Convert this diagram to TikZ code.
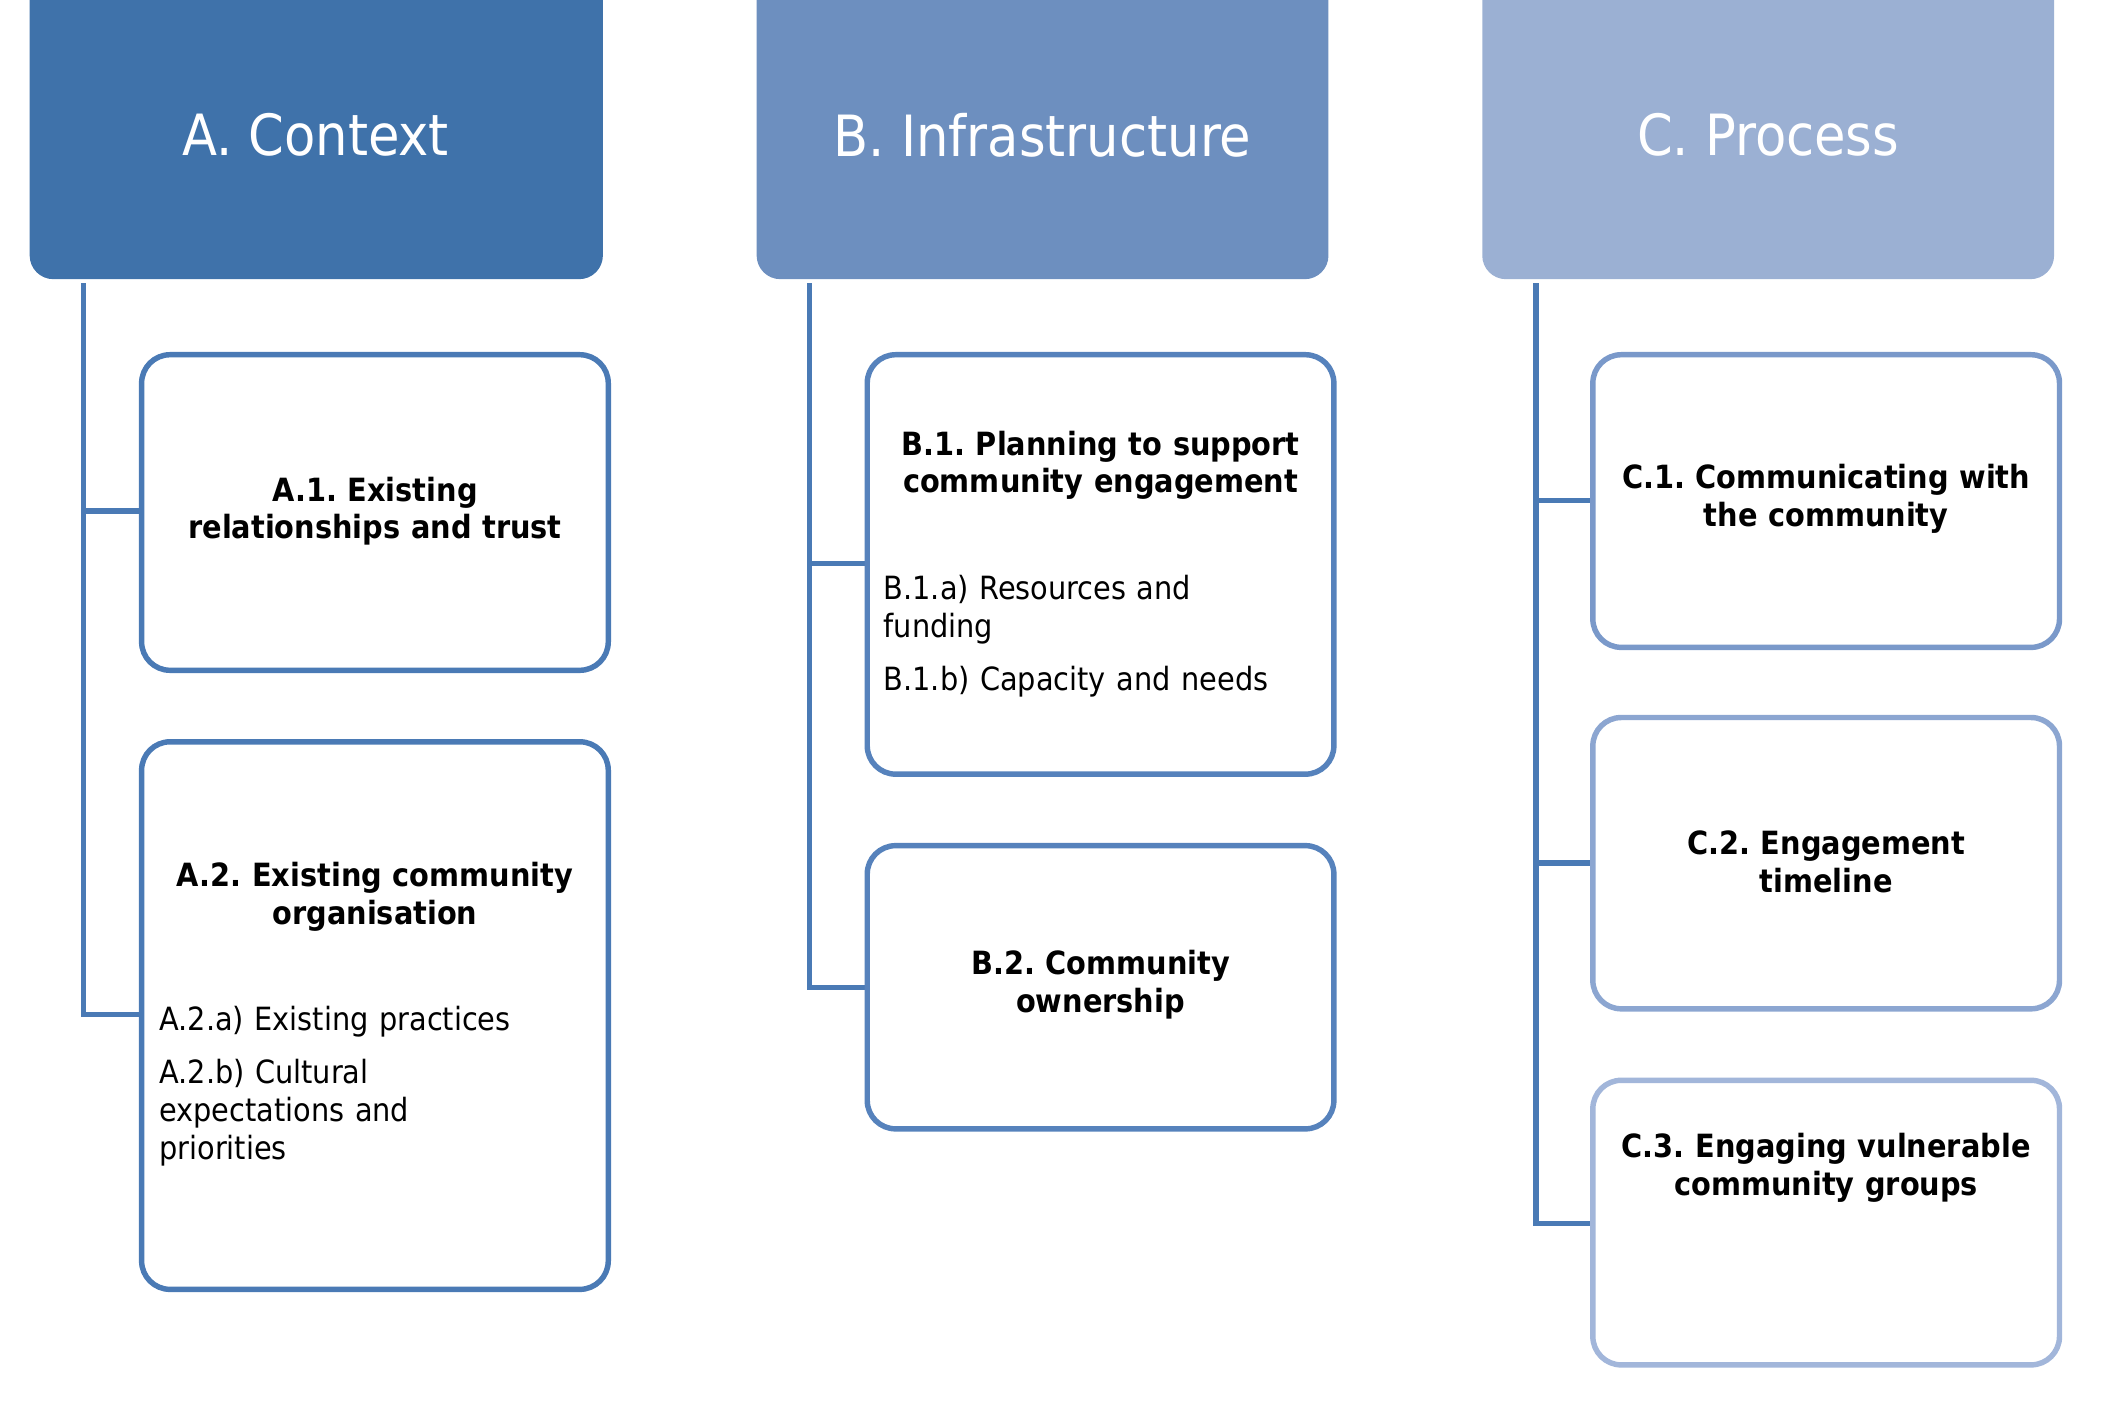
\documentclass[tikz,border=0pt]{standalone}
\usepackage{fontspec}
\setmainfont{DejaVu Sans Condensed}
\frenchspacing
\definecolor{headA}{HTML}{3F72AA}
\definecolor{headB}{HTML}{6D8FBF}
\definecolor{headC}{HTML}{9BB0D3}
\definecolor{lineA}{HTML}{4A7AB5}
\definecolor{lineB}{HTML}{5682BC}
\definecolor{lineC1}{HTML}{7A99CA}
\definecolor{lineC2}{HTML}{8CA6D1}
\definecolor{lineC3}{HTML}{A2B6DA}
\tikzset{
  head/.style={text=white,font=\fontsize{24}{28}\selectfont},
  box/.style={line width=2.3pt,rounded corners=12pt,fill=white},
  ttl/.style={font=\fontsize{13.5}{16}\selectfont\bfseries,align=center,text width=6.6cm},
  itm/.style={font=\fontsize{13.5}{16}\selectfont,align=left,text width=6.4cm,anchor=north west},
  spine/.style={line width=2.3pt,color=lineA}
}
\begin{document}
\begin{tikzpicture}[x=0.02cm,y=-0.02cm]
\useasboundingbox (0,0) rectangle (1560,1047);
% headers
\fill[headA,rounded corners=10pt] (22,-20) rectangle (447,207);
\fill[headB,rounded corners=10pt] (561,-20) rectangle (985,207);
\fill[headC,rounded corners=10pt] (1099,-20) rectangle (1523,207);
\node[head] (A) at (234,100) {A. Context};
\node[head] (B) at (773,100) {B. Infrastructure};
\node[head] (C) at (1311,100) {C. Process};
% spines
\coordinate (As) at (62,210);
\coordinate (Bs) at (600,210);
\coordinate (Cs) at (1139,210);
\draw[spine] (As) |- (105,752);
\draw[spine] (62,379) -- (105,379);
\draw[spine] (Bs) |- (643,732);
\draw[spine] (600,418) -- (643,418);
\draw[spine] (Cs) |- (1181,907);
\draw[spine] (1139,371) -- (1181,371);
\draw[spine] (1139,640) -- (1181,640);
% column A
\draw[box,draw=lineA] (105,263) rectangle (451,497);
\draw[box,draw=lineA] (105,550) rectangle (451,956);
\node[ttl] (a1) at (278,379) {A.1. Existing\\relationships and trust};
\node[ttl] (a2) at (278,665) {A.2. Existing community\\organisation};
\node[itm] (a2a) at (112,740) {A.2.a) Existing practices};
\node[itm] (a2b) at (112,779) {A.2.b) Cultural\\expectations and\\priorities};
% column B
\draw[box,draw=lineB] (643,263) rectangle (989,574);
\draw[box,draw=lineB] (643,627) rectangle (989,837);
\node[ttl] (b1) at (816,345) {B.1. Planning to support\\community engagement};
\node[itm] (b1a) at (649,420) {B.1.a) Resources and\\funding};
\node[itm] (b1b) at (649,488) {B.1.b) Capacity and needs};
\node[ttl] (b2) at (816,730) {B.2. Community\\ownership};
% column C
\draw[box,draw=lineC1] (1181,263) rectangle (1527,480);
\draw[box,draw=lineC2] (1181,532) rectangle (1527,748);
\draw[box,draw=lineC3] (1181,801) rectangle (1527,1012);
\node[ttl] (c1) at (1354,370) {C.1. Communicating with\\the community};
\node[ttl] (c2) at (1354,639) {C.2. Engagement\\timeline};
\node[ttl] (c3) at (1354,866) {C.3. Engaging vulnerable\\community groups};
\end{tikzpicture}
\end{document}
